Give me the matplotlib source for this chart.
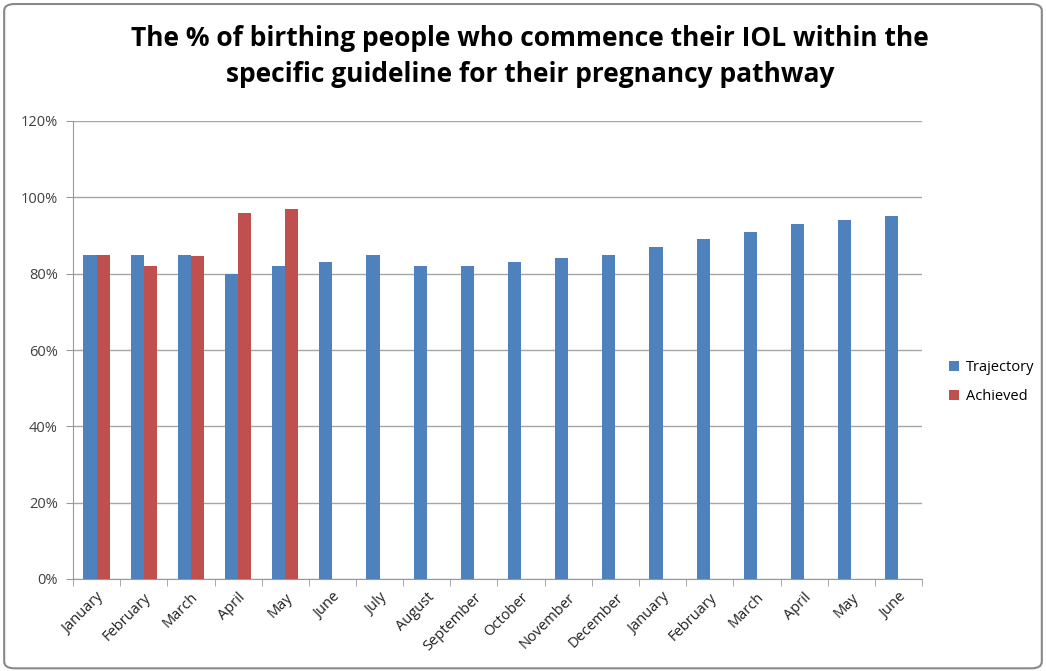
import numpy as np
import matplotlib.pyplot as plt
from matplotlib.patches import FancyBboxPatch

months = ['January', 'February', 'March', 'April', 'May', 'June', 'July', 'August',
          'September', 'October', 'November', 'December', 'January', 'February',
          'March', 'April', 'May', 'June']
trajectory = [85, 85, 85, 80, 82, 83, 85, 82, 82, 83, 84, 85, 87, 89, 91, 93, 94, 95]
achieved = [85, 82, 84.5, 96, 97]

plt.rcParams['font.family'] = ['Open Sans', 'DejaVu Sans']

fig = plt.figure(figsize=(10.46, 6.71), dpi=100)
ax = fig.add_axes([73/1046, 1-579/671, (922-73)/1046, (579-121)/671])

x = np.arange(len(months))
w = 0.28
ax.bar(x - w/2, trajectory, w, color='#4F81BD', label='Trajectory', zorder=3)
ax.bar(x[:len(achieved)] + w/2, achieved, w, color='#C0504D', label='Achieved', zorder=3)

ax.set_xlim(-0.5, len(months) - 0.5)
ax.set_ylim(0, 120)
ax.set_yticks(range(0, 121, 20))
ax.set_yticklabels([f'{v}%' for v in range(0, 121, 20)], fontsize=10.5, color='#404040')
ax.set_xticks(x)
ax.set_xticklabels(months, rotation=45, ha='right', rotation_mode='anchor', fontsize=10.5, color='#202020')
ax.set_xticks(np.arange(-0.5, len(months)), minor=True)
ax.tick_params(axis='x', which='major', length=0, pad=8)
ax.tick_params(axis='x', which='minor', length=5, color='#999999')
ax.tick_params(axis='y', length=5, color='#999999', pad=6)
ax.grid(axis='y', color='#A6A6A6', linewidth=1, zorder=0)
for s in ['top', 'right']:
    ax.spines[s].set_visible(False)
for s in ['left', 'bottom']:
    ax.spines[s].set_color('#999999')

ax.legend(loc='center left', bbox_to_anchor=(1.016, 0.43), frameon=False, fontsize=10.5,
          handlelength=0.7, handleheight=0.7, handletextpad=0.5, labelspacing=1.0)

fig.suptitle('The % of birthing people who commence their IOL within the\nspecific guideline for their pregnancy pathway',
             x=0.507, y=0.962, fontsize=19, fontweight='bold', linespacing=1.4)

fig.patches.append(FancyBboxPatch((0.004, 0.004), 0.992, 0.99, boxstyle='round,pad=0,rounding_size=0.01',
                                  transform=fig.transFigure, fill=False, edgecolor='#888888', linewidth=1.5))

fig.savefig('out.png', dpi=100)
